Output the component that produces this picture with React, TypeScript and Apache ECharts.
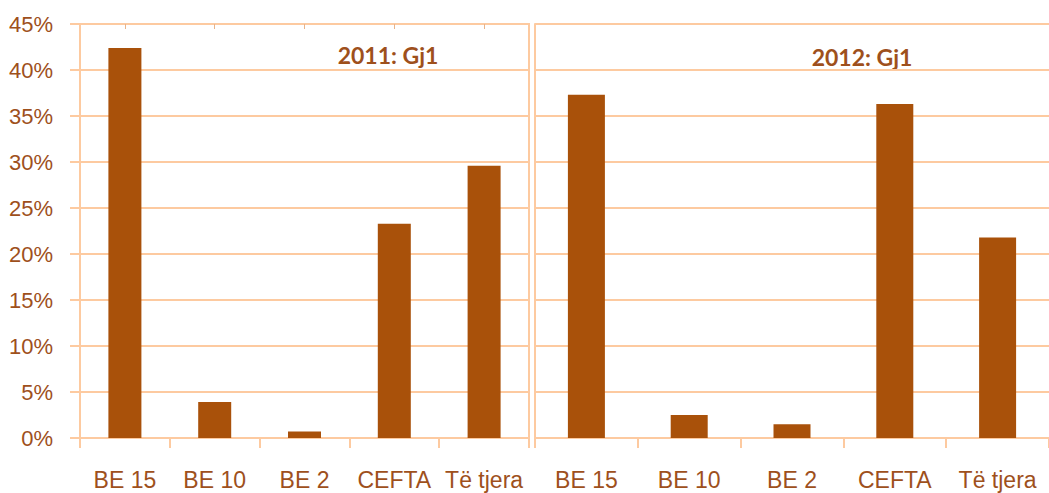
import React, { useEffect, useRef } from "react";
import * as echarts from "echarts";

const categories = ["BE 15", "BE 10", "BE 2", "CEFTA", "Të tjera"];
const values2011 = [42.4, 3.9, 0.7, 23.3, 29.6];
const values2012 = [37.3, 2.5, 1.5, 36.3, 21.8];
const titles = ["2011: Gj1", "2012: Gj1"];
const yTicks = { min: 0, max: 45, interval: 5 };

const BAR = "#a9510a";
const TEXT = "#9e501c";
const GRID = "#fdcaa0";
const LABEL_FONT = "'Liberation Sans', sans-serif";

export default function App() {
  const ref = useRef<HTMLDivElement>(null);
  useEffect(() => {
    if (!ref.current) return;
    const chart = echarts.init(ref.current, undefined, { renderer: "svg" });
    const xAxisBase = (gridIndex: number) => ({
      type: "category",
      gridIndex,
      data: categories,
      axisLine: { show: true, lineStyle: { color: GRID, width: 2 } },
      axisTick: { show: true, length: 10, lineStyle: { color: GRID, width: 2 } },
      axisLabel: { color: TEXT, fontSize: 23, fontFamily: LABEL_FONT, margin: 30, interval: 0 },
    });
    const yAxisBase = (gridIndex: number, labels: boolean) => ({
      type: "value",
      gridIndex,
      ...yTicks,
      axisLine: { show: true, lineStyle: { color: GRID, width: 2 } },
      axisTick: { show: labels, length: 10, lineStyle: { color: GRID, width: 2 } },
      splitLine: { show: true, lineStyle: { color: GRID, width: 2 } },
      axisLabel: {
        show: labels,
        color: TEXT,
        fontSize: 22,
        fontFamily: LABEL_FONT,
        margin: 27,
        padding: [7, 0, 0, 0],
        formatter: "{value}%",
      },
    });
    chart.setOption({
      animation: false,
      grid: [
        { left: 80, top: 24, width: 449, height: 414, show: true, borderColor: GRID, borderWidth: 2 },
        { left: 535, top: 24, width: 522, height: 414 },
      ],
      xAxis: [
        xAxisBase(0),
        xAxisBase(1),
        {
          type: "category",
          gridIndex: 0,
          data: categories,
          z: 5,
          axisLine: { show: false },
          axisLabel: { show: false },
          axisTick: { show: true, inside: true, alignWithLabel: true, length: 5, lineStyle: { color: "#e8b48c", width: 1 } },
        },
      ],
      yAxis: [yAxisBase(0, true), yAxisBase(1, false)],
      series: [
        {
          type: "bar",
          xAxisIndex: 0,
          yAxisIndex: 0,
          data: values2011,
          barWidth: 33,
          itemStyle: { color: BAR },
        },
        {
          type: "bar",
          xAxisIndex: 1,
          yAxisIndex: 1,
          data: values2012,
          barWidth: 37,
          itemStyle: { color: BAR },
        },
      ],
      graphic: [
        {
          type: "text",
          x: 388,
          y: 55,
          style: {
            text: titles[0],
            fill: TEXT,
            font: "bold 23px Lato, sans-serif",
            textAlign: "center",
            textVerticalAlign: "middle",
          },
        },
        {
          type: "text",
          x: 862,
          y: 57,
          style: {
            text: titles[1],
            fill: TEXT,
            font: "bold 23px Lato, sans-serif",
            textAlign: "center",
            textVerticalAlign: "middle",
          },
        },
      ],
    });
    return () => chart.dispose();
  }, []);
  return <div ref={ref} style={{ width: 1049, height: 493, position: "absolute", left: 0, top: 0 }} />;
}
